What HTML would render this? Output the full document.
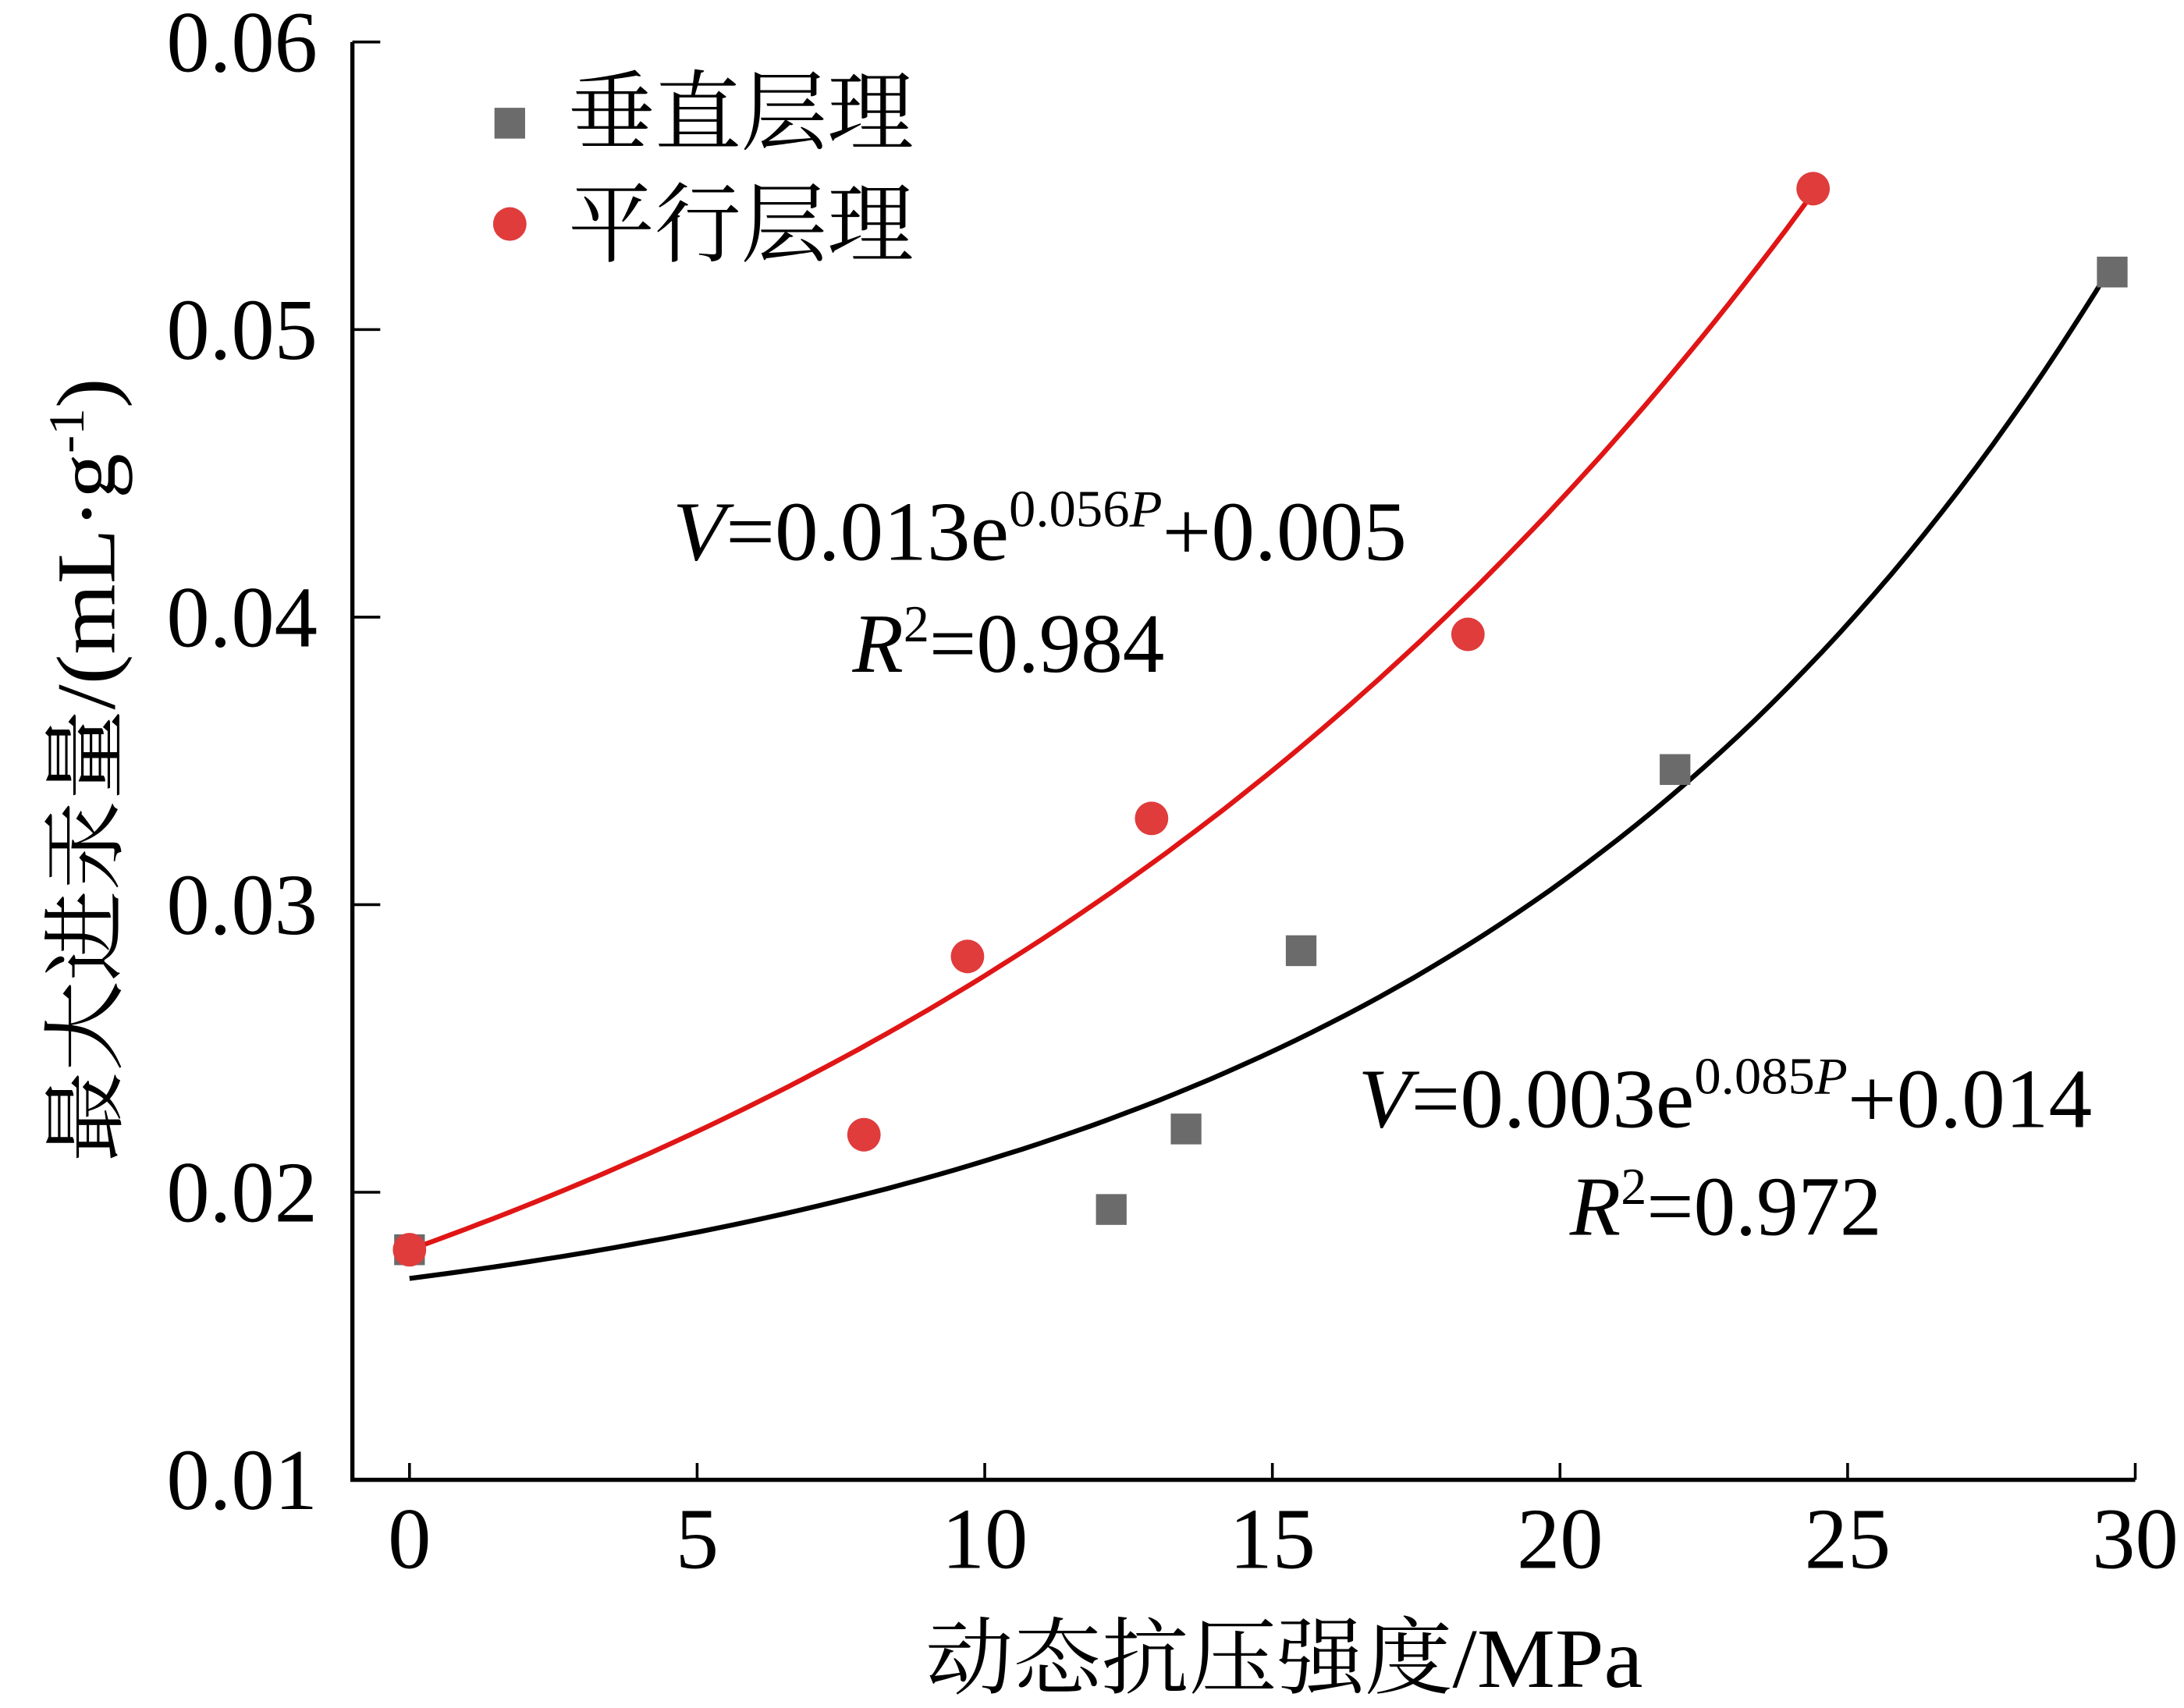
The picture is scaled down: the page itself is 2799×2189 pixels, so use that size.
<!DOCTYPE html>
<html><head><meta charset="utf-8"><style>
html,body{margin:0;padding:0;background:#fff;}
svg{display:block;}
text{font-family:"Liberation Serif","Noto Serif CJK SC",serif;fill:#000;}
</style></head><body>
<svg id="chart" width="2799" height="2189" viewBox="0 0 1568 1220" preserveAspectRatio="none" xmlns="http://www.w3.org/2000/svg">
<g id="axes"></g>
<g id="curves"></g>
<g id="marks"></g>
<g>
 <rect x="355" y="77" width="22" height="22" fill="#6b6b6b"/>
 <text x="408" y="102" font-size="62" style="font-family:'Noto Serif CJK SC',serif">垂直层理</text>
 <circle cx="366" cy="160" r="12" fill="#e03c3c"/>
 <text x="408" y="182" font-size="62" style="font-family:'Noto Serif CJK SC',serif">平行层理</text>
</g>
<g>
 <text x="483" y="400" font-size="60" textLength="527" lengthAdjust="spacingAndGlyphs"><tspan font-style="italic">V</tspan>=0.013e<tspan font-size="37" dy="-24">0.056<tspan font-style="italic">P</tspan></tspan><tspan dy="24">+0.005</tspan></text>
 <text x="612" y="480" font-size="60"><tspan font-style="italic">R</tspan><tspan font-size="37" dy="-22">2</tspan><tspan dy="22">=0.984</tspan></text>
</g>
<g>
 <text x="975" y="805" font-size="60" textLength="527" lengthAdjust="spacingAndGlyphs"><tspan font-style="italic">V</tspan>=0.003e<tspan font-size="37" dy="-24">0.085<tspan font-style="italic">P</tspan></tspan><tspan dy="24">+0.014</tspan></text>
 <text x="1127" y="882" font-size="60"><tspan font-style="italic">R</tspan><tspan font-size="37" dy="-22">2</tspan><tspan dy="22">=0.972</tspan></text>
</g>
<text x="922" y="1205" font-size="60" text-anchor="middle" textLength="515" lengthAdjust="spacingAndGlyphs">动态抗压强度/MPa</text>
<text transform="translate(82,550) rotate(-90)" font-size="60" text-anchor="middle" textLength="560" lengthAdjust="spacingAndGlyphs">最大进汞量/(mL·g<tspan font-size="36" dy="-22">-1</tspan><tspan dy="22">)</tspan></text>
</svg>
<script>
const xTicks=[0,5,10,15,20,25,30];
const yTicks=[0.01,0.02,0.03,0.04,0.05,0.06];
const yTickLabels=["0.01","0.02","0.03","0.04","0.05","0.06"];
const vertX=[0,12.2,13.5,15.5,22,29.6];
const vertY=[0.018,0.0194,0.0222,0.0284,0.0347,0.052];
const parX=[0,7.9,9.7,12.9,18.4,24.4];
const parY=[0.018,0.022,0.0282,0.033,0.0394,0.0549];
const redFit=[0.013,0.055,0.005];
const blackFit=[0.003,0.086,0.014];
const NS="http://www.w3.org/2000/svg";
const xs=v=>294+v*(1533-294)/30;
const ys=v=>1057-(v-0.01)*(1057-30)/0.05;
function mk(p,tag,at){const e=document.createElementNS(NS,tag);for(const k in at)e.setAttribute(k,at[k]);p.appendChild(e);return e;}
const axes=document.getElementById('axes');
let e=mk(axes,'path',{d:'M253,30 L253,1057 L1533,1057',fill:'none',stroke:'#000','stroke-width':3});


xTicks.forEach(t=>{
 const l=mk(axes,'line',{x1:xs(t),x2:xs(t),y1:1057,y2:1045,stroke:'#000','stroke-width':2});
 
 
 const tx=mk(axes,'text',{x:xs(t),y:1120,'font-size':62,'text-anchor':'middle'});tx.textContent=t;
 
 
});
yTicks.forEach((t,i)=>{
 const l=mk(axes,'line',{x1:253,x2:273,y1:ys(t),y2:ys(t),stroke:'#000','stroke-width':2});
 
 
 const tx=mk(axes,'text',{x:228,y:ys(t)+21,'font-size':62,'text-anchor':'end'});tx.textContent=yTickLabels[i];
 
 
});
const curves=document.getElementById('curves');
function curve(f,x1,color,name){let d='';for(let i=0;i<=100;i++){const x=x1*i/100;const y=f[0]*Math.exp(f[1]*x)+f[2];d+=(i?'L':'M')+xs(x).toFixed(1)+','+ys(y).toFixed(1);}
 const p=mk(curves,'path',{d:d,fill:'none',stroke:color,'stroke-width':3.5});
 
 }
curve(blackFit,vertX[vertX.length-1],'#000','fit-vertical');
curve(redFit,parX[parX.length-1],'#e01515','fit-parallel');
const marks=document.getElementById('marks');
vertX.forEach((x,i)=>{const r=mk(marks,'rect',{x:xs(x)-11,y:ys(vertY[i])-11,width:22,height:22,fill:'#6b6b6b'});
 
 });
parX.forEach((x,i)=>{const c=mk(marks,'circle',{cx:xs(x),cy:ys(parY[i]),r:12,fill:'#e03c3c'});
 
 });
</script>
</body></html>
